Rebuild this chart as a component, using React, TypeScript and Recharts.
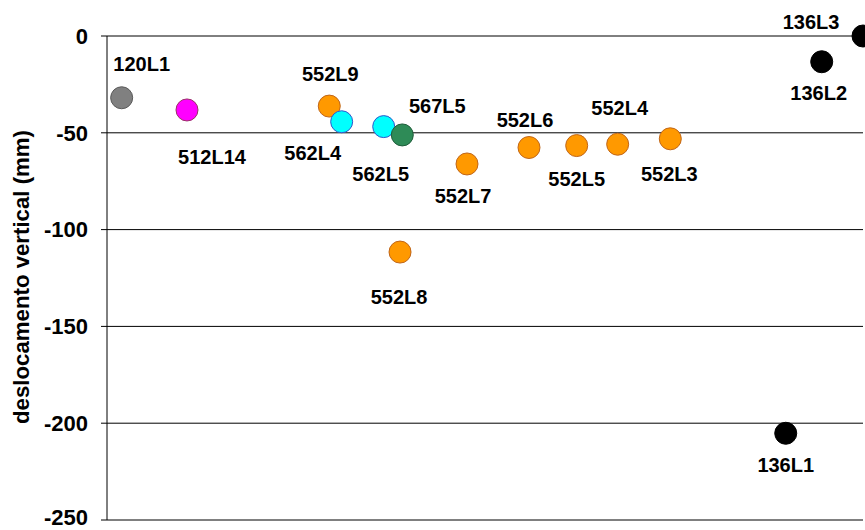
import React from "react";
import { ScatterChart, Scatter, XAxis, YAxis, CartesianGrid } from "recharts";

// survey points (name, station along section in %, vertical displacement in mm)
const pointNames = [
  "120L1", "512L14", "552L9", "562L4", "562L5", "567L5", "552L8", "552L7",
  "552L6", "552L5", "552L4", "552L3", "136L1", "136L2", "136L3",
];
const stations = [
  1.94, 10.58, 29.4, 31.04, 36.6, 39.06, 38.76, 47.62,
  55.82, 62.13, 67.55, 74.51, 89.78, 94.54, 100,
];
const displacements = [
  -31.9, -38.2, -36.2, -44.3, -46.8, -51.1, -111.6, -66.1,
  -57.6, -56.6, -55.9, -53.1, -205.2, -13.3, 0,
];
const yTicks = [0, -50, -100, -150, -200, -250];
const groups = ["120", "512", "552", "562", "567", "136"];

const groupStyle: Record<string, { fill: string; stroke: string }> = {
  "120": { fill: "#808080", stroke: "#5a5a5a" },
  "512": { fill: "#ff00ff", stroke: "#993366" },
  "552": { fill: "#ff9900", stroke: "#c0661a" },
  "562": { fill: "#00ffff", stroke: "#3355cc" },
  "567": { fill: "#2e8b57", stroke: "#1f5c3a" },
  "136": { fill: "#000000", stroke: "#000000" },
};

// label placement relative to the marker centre
const labelOffsets: Record<string, [number, number]> = {
  "120L1": [20, -34],
  "512L14": [25, 47],
  "552L9": [1, -32],
  "562L4": [-29, 31],
  "562L5": [-3, 47],
  "567L5": [35, -29],
  "552L8": [-1, 45],
  "552L7": [-4, 32],
  "552L6": [-4, -28],
  "552L5": [0, 33],
  "552L4": [2, -36],
  "552L3": [-1, 35],
  "136L1": [0, 32],
  "136L2": [-3, 31],
  "136L3": [-52, -14],
};

const points = pointNames.map((name, i) => ({
  name,
  x: stations[i],
  y: displacements[i],
  group: name.slice(0, 3),
}));

const font = "'Liberation Sans', Arial, sans-serif";

const PointMark = (props: any) => {
  const { cx, cy, payload, colors } = props;
  if (cx == null || cy == null) return <g />;
  const [dx, dy] = labelOffsets[payload.name] || [0, -30];
  return (
    <g>
      <circle cx={cx} cy={cy} r={11} fill={colors.fill} stroke={colors.stroke} strokeWidth={1} />
      <text
        x={cx + dx}
        y={cy + dy}
        dy="0.36em"
        textAnchor="middle"
        fontSize={20}
        fontWeight="bold"
        fontFamily={font}
        fill="#000"
      >
        {payload.name}
      </text>
    </g>
  );
};

const AxisTitle = () => (
  <text
    x={21}
    y={277}
    dy="0.36em"
    transform="rotate(-90, 21, 277)"
    textAnchor="middle"
    fontSize={22}
    fontWeight="bold"
    fontFamily={font}
    fill="#000"
    textLength={294}
    lengthAdjust="spacingAndGlyphs"
  >
    deslocamento vertical (mm)
  </text>
);

export default function App() {
  return (
    <div style={{ position: "absolute", left: 0, top: 0, width: 865, height: 530, overflow: "hidden", background: "#fff" }}>
      <ScatterChart width={865} height={530} margin={{ top: 36, right: 2, bottom: 10, left: 0 }}>
        <CartesianGrid vertical={false} stroke="#000" strokeWidth={1} />
        <XAxis
          type="number"
          dataKey="x"
          domain={[0, 100]}
          ticks={[0, 100]}
          height={0}
          stroke="#808080"
          strokeWidth={2}
          tickSize={4}
          tickLine={{ stroke: "#333", strokeWidth: 3 }}
          tick={() => <g />}
        />
        <YAxis
          type="number"
          dataKey="y"
          domain={[-250, 0]}
          ticks={yTicks}
          width={107}
          stroke="#000"
          tickSize={6}
          tickMargin={13}
          tick={{ fill: "#000", fontSize: 22, fontWeight: "bold", fontFamily: font }}
          label={<AxisTitle />}
        />
        {groups.map((g) => (
          <Scatter
            key={g}
            data={points.filter((p) => p.group === g)}
            isAnimationActive={false}
            shape={(p: any) => <PointMark {...p} colors={groupStyle[g]} />}
          />
        ))}
      </ScatterChart>
    </div>
  );
}
